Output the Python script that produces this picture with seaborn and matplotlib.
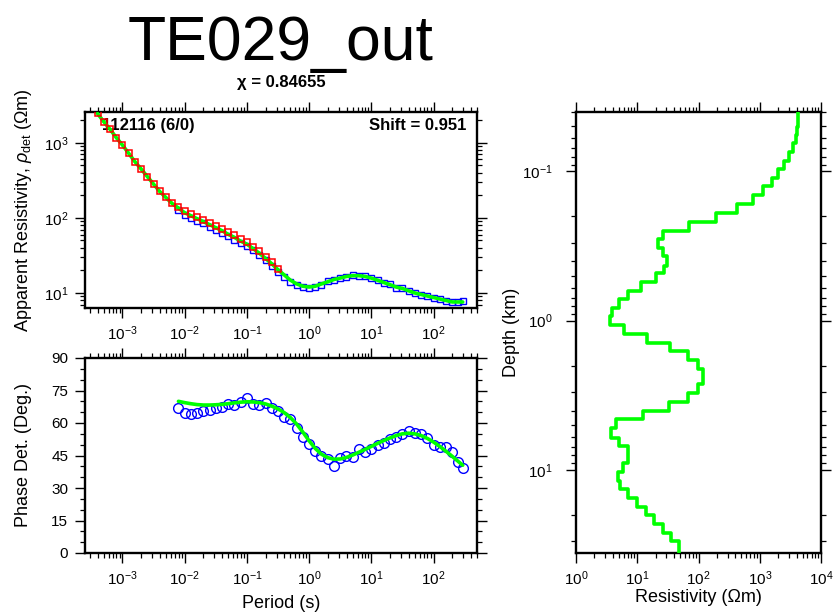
import numpy as np
import pandas as pd
import matplotlib
matplotlib.use("Agg")
import matplotlib.pyplot as plt
import seaborn as sns
from matplotlib.ticker import LogLocator, MultipleLocator, NullFormatter, FixedLocator, LogFormatterSciNotation

# ---------------- data ----------------
site_title = "TE029_out"
chi_text = "χ = 0.84655"
station_label = "112116 (6/0)"
shift_label = "Shift = 0.951"

period_grid = [0.000398, 0.000501, 0.000631, 0.000794, 0.00100, 0.00126, 0.00158, 0.00200,
               0.00251, 0.00316, 0.00398, 0.00501, 0.00631, 0.00794, 0.0100, 0.0126,
               0.0158, 0.0200, 0.0251, 0.0316, 0.0398, 0.0501, 0.0631, 0.0794,
               0.100, 0.126, 0.158, 0.200, 0.251, 0.316, 0.398, 0.501,
               0.631, 0.794, 1.00, 1.26, 1.58, 2.00, 2.51, 3.16,
               3.98, 5.01, 6.31, 7.94, 10.0, 12.6, 15.8, 20.0,
               25.1, 31.6, 39.8, 50.1, 63.1, 79.4, 100.0, 126.0,
               158.0, 200.0, 251.0, 295.0]

model_rho = [2455, 1905, 1514, 1175, 933, 724, 562, 447, 355, 282,
             224, 186, 155, 135, 117, 107, 97.7, 89.1, 81.3, 74.1,
             67.6, 60.3, 55.0, 49.0, 44.7, 38.9, 33.9, 28.8, 24.5, 20.4,
             17.4, 14.8, 13.2, 12.3, 12.0, 12.3, 13.2, 14.1, 15.1, 15.8,
             16.6, 17.0, 17.0, 16.6, 15.8, 14.8, 13.8, 12.9, 12.0, 11.5,
             10.7, 10.0, 9.55, 9.12, 8.71, 8.32, 7.94, 7.59, 7.59, 7.59]

red_period = period_grid[:30]
red_rho = [2455, 1905, 1514, 1175, 933, 724, 562, 447, 355, 282,
           226, 190, 160, 141, 123, 113, 103, 94.5, 86.0, 78.5,
           71.5, 64.0, 58.5, 52.0, 47.5, 41.5, 36.0, 30.5, 25.5, 20.8]

blue_period = period_grid[13:]
blue_rho = [128, 110, 101, 92, 85, 76, 70, 63, 58, 51,
            47, 42, 37, 32, 27.5, 23.0, 19.2, 16.5, 14.2, 12.6,
            11.9, 11.7, 12.0, 12.8, 14.3, 14.9, 15.9, 16.4, 17.2, 16.9,
            16.8, 15.6, 14.9, 13.6, 13.0, 11.8, 11.6, 10.5, 10.1, 9.4,
            9.2, 8.6, 8.3, 7.8, 7.5, 7.6, 7.8]

phase_period = period_grid[13:]
phase_model = [70.0, 69.4, 68.9, 68.5, 68.3, 68.3, 68.4, 68.6, 68.9, 69.3,
               69.6, 69.8, 69.7, 69.4, 68.8, 67.8, 66.5, 64.8, 62.5, 59.5,
               55.8, 51.8, 48.2, 45.6, 44.0, 43.3, 43.4, 44.1, 45.2, 46.5,
               47.8, 49.2, 50.6, 51.9, 53.1, 54.2, 55.0, 55.3, 55.0, 54.2,
               52.9, 51.2, 49.2, 47.0, 44.6, 42.2, 40.5]
phase_obs = [67.0, 64.8, 64.2, 64.8, 65.5, 66.2, 66.8, 67.6, 68.8, 68.2,
             69.5, 71.5, 69.0, 68.3, 69.2, 67.0, 65.4, 63.0, 61.8, 57.5,
             53.5, 50.2, 47.0, 44.6, 43.5, 40.0, 43.8, 44.8, 44.2, 47.8,
             46.5, 48.2, 49.8, 51.0, 52.7, 53.6, 54.8, 56.4, 55.4, 54.9,
             53.2, 50.0, 48.8, 49.0, 46.5, 42.0, 39.4]

# 1-D layered model: layer top depths (km) and resistivities (Ohm m)
layer_top_km = [0.04, 0.0501, 0.0570, 0.0648, 0.0736, 0.0851, 0.0967, 0.111, 0.126,
                0.145, 0.166, 0.190, 0.218, 0.249, 0.284, 0.327, 0.371, 0.427,
                0.480, 0.551, 0.630, 0.716, 0.822, 0.936, 1.07, 1.23, 1.41,
                1.60, 1.84, 2.10, 2.64, 3.05, 3.52, 4.04, 4.59, 5.27, 6.09,
                6.93, 8.96, 10.3, 11.9, 13.5, 15.5, 17.7, 20.1, 22.9, 26.3, 29.9]
layer_rho = [4266, 4010, 3908, 3451, 3044, 2490, 2011, 1566, 1144,
             767, 431, 193, 69.2, 26.0, 22.1, 26.7, 31.0, 27.3,
             20.2, 11.6, 6.98, 5.11, 3.92, 3.59, 6.08, 14.3, 34.3,
             68.2, 99.3, 117, 99.3, 68.2, 33.4, 12.3, 4.50, 3.73, 5.11,
             6.98, 5.93, 4.80, 5.23, 7.15, 9.79, 13.9, 18.8, 26.0, 35.2, 48.7]
model_bottom_km = 36.0

period_ticks = [1e-3, 1e-2, 1e-1, 1e0, 1e1, 1e2]
rho_ticks = [1e1, 1e2, 1e3]
phase_ticks = [0, 15, 30, 45, 60, 75, 90]
depth_ticks = [1e-1, 1e0, 1e1]
res_ticks = [1e0, 1e1, 1e2, 1e3, 1e4]

# ---------------- style ----------------
sns.set_style("ticks")
plt.rcParams["font.family"] = ["Liberation Sans", "DejaVu Sans"]
plt.rcParams["mathtext.fontset"] = "custom"
plt.rcParams["mathtext.rm"] = "Liberation Sans"
plt.rcParams["mathtext.it"] = "Liberation Sans:italic"
plt.rcParams["mathtext.bf"] = "Liberation Sans:bold"
plt.rcParams["axes.edgecolor"] = "black"
plt.rcParams["xtick.color"] = "black"
plt.rcParams["ytick.color"] = "black"
plt.rcParams["text.color"] = "black"

GREEN = "#00ff00"

W, H = 836, 616
fig = plt.figure(figsize=(W / 100, H / 100), dpi=100)


def rect(x0, y0, x1, y1):
    return [x0 / W, 1 - y1 / H, (x1 - x0) / W, (y1 - y0) / H]


ax_rho = fig.add_axes(rect(85, 112, 477, 308))
ax_ph = fig.add_axes(rect(85, 358, 477, 553))
ax_m = fig.add_axes(rect(576, 112, 821, 553))


def style_axis(ax, ypad=5):
    for s in ax.spines.values():
        s.set_visible(True)
        s.set_linewidth(1.7)
        s.set_color("black")
    ax.tick_params(which="both", direction="out", top=True, right=True,
                   labelsize=11, pad=5)
    ax.tick_params(axis="y", which="both", pad=ypad)
    ax.tick_params(which="major", length=7, width=1.0)
    ax.tick_params(which="minor", length=3.5, width=0.9)
    ax.xaxis.label.set_visible(False)
    ax.yaxis.label.set_visible(False)


def log_ticks(axis, majors):
    axis.set_major_locator(FixedLocator(majors))
    axis.set_major_formatter(LogFormatterSciNotation())
    axis.set_minor_locator(LogLocator(base=10, subs=np.arange(2, 10), numticks=300))
    axis.set_minor_formatter(NullFormatter())


# ---- apparent resistivity ----
sns.lineplot(x=blue_period, y=blue_rho, ax=ax_rho, marker="s", linestyle="",
             markersize=4.5, markerfacecolor="none", markeredgecolor="blue",
             markeredgewidth=1.0, estimator=None, sort=False, zorder=2)
sns.lineplot(x=period_grid, y=model_rho, ax=ax_rho, color=GREEN, linewidth=2.6,
             estimator=None, sort=False, zorder=3)
sns.lineplot(x=red_period, y=red_rho, ax=ax_rho, marker="s", linestyle="",
             markersize=4.8, markerfacecolor="none", markeredgecolor="red",
             markeredgewidth=1.1, estimator=None, sort=False, zorder=4)
ax_rho.set_xscale("log")
ax_rho.set_yscale("log")
ax_rho.set_xlim(2.5e-4, 500)
ax_rho.set_ylim(10 ** 0.8, 10 ** 3.41)
log_ticks(ax_rho.xaxis, period_ticks)
log_ticks(ax_rho.yaxis, rho_ticks)
style_axis(ax_rho)
ax_rho.text(0.043, 0.908, station_label, transform=ax_rho.transAxes, ha="left",
            va="baseline", fontsize=12, fontweight="bold", zorder=1)
ax_rho.text(0.974, 0.908, shift_label, transform=ax_rho.transAxes, ha="right",
            va="baseline", fontsize=12, fontweight="bold", zorder=1)

# ---- phase ----
sns.lineplot(x=phase_period, y=phase_obs, ax=ax_ph, marker="o", linestyle="",
             markersize=7.0, markerfacecolor="none", markeredgecolor="blue",
             markeredgewidth=1.0, estimator=None, sort=False, zorder=2)
sns.lineplot(x=phase_period, y=phase_model, ax=ax_ph, color=GREEN, linewidth=2.6,
             estimator=None, sort=False, zorder=3)
ax_ph.set_xscale("log")
ax_ph.set_xlim(2.5e-4, 500)
ax_ph.set_ylim(0, 90)
log_ticks(ax_ph.xaxis, period_ticks)
ax_ph.yaxis.set_major_locator(FixedLocator(phase_ticks))
ax_ph.yaxis.set_minor_locator(MultipleLocator(5))
style_axis(ax_ph)

# ---- layered model ----
bounds = layer_top_km + [model_bottom_km]
step_x, step_y = [], []
for i, r in enumerate(layer_rho):
    step_x += [r, r]
    step_y += [bounds[i], bounds[i + 1]]
step_df = pd.DataFrame({"rho": step_x, "depth": step_y})
sns.lineplot(data=step_df, x="rho", y="depth", ax=ax_m, color=GREEN, linewidth=2.6,
             estimator=None, sort=False, zorder=3)
ax_m.set_xscale("log")
ax_m.set_yscale("log")
ax_m.set_xlim(1, 1e4)
ax_m.set_ylim(model_bottom_km, 0.04)
log_ticks(ax_m.xaxis, res_ticks)
log_ticks(ax_m.yaxis, depth_ticks)
style_axis(ax_m, ypad=10)

# ---- texts ----
fig.text(281 / W, 1 - 60 / H, site_title, ha="center", va="baseline", fontsize=45)
fig.text(281 / W, 1 - 87 / H, chi_text, ha="center", va="baseline", fontsize=12,
         fontweight="bold")
fig.text(24 / W, 1 - 210 / H, r"Apparent Resistivity, $\rho_{\mathrm{det}}$ ($\Omega$m)",
         rotation=90, ha="center", va="center", fontsize=13)
fig.text(24 / W, 1 - 455 / H, "Phase Det. (Deg.)", rotation=90, ha="center",
         va="center", fontsize=13)
fig.text(511 / W, 1 - 332 / H, "Depth (km)", rotation=90, ha="center",
         va="center", fontsize=13)
fig.text(281 / W, 1 - 603 / H, "Period (s)", ha="center", va="center", fontsize=13)
fig.text(698 / W, 1 - 597 / H, "Resistivity (Ωm)", ha="center", va="center", fontsize=13)

fig.savefig("out.png", dpi=100)
